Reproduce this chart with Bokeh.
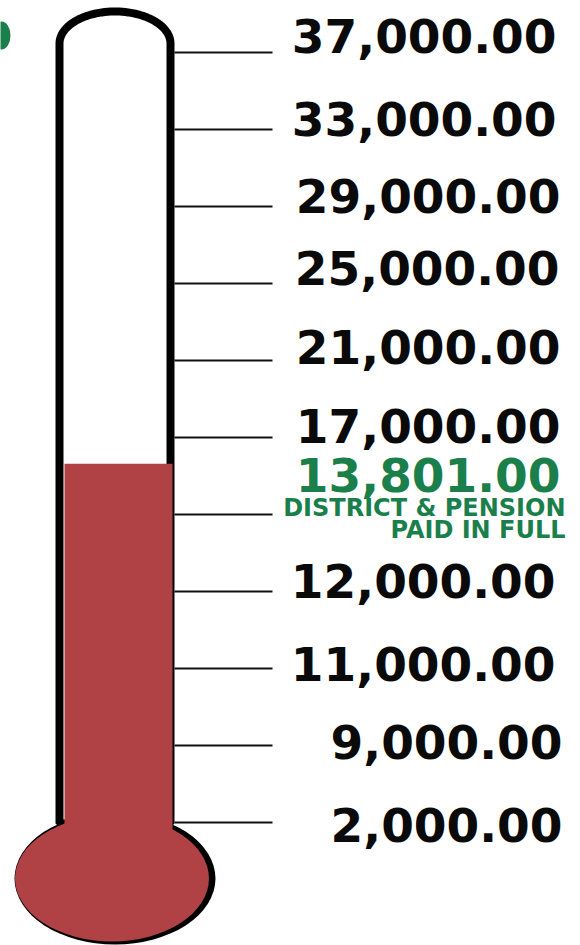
import numpy as np
from bokeh.plotting import figure
from bokeh.models import Range1d
from bokeh.core.properties import value
from bokeh.embed import file_html
from bokeh.resources import INLINE

# goal ladder, bottom to top (the rung marks are evenly spaced by rank)
tick_ranks = [0, 1, 2, 3, 4, 5, 6, 7, 8, 9, 10]
tick_labels = ["2,000.00", "9,000.00", "11,000.00", "12,000.00", None, "17,000.00",
               "21,000.00", "25,000.00", "29,000.00", "33,000.00", "37,000.00"]
raised_label = "13,801.00"
raised_rank = 4.66
note_lines = ["DISTRICT & PENSION", "PAID IN FULL"]

W, H = 580, 945
RUNG = 77.0
BASE = 822.0
def ry(px):
    return (BASE - np.asarray(px, dtype=float)) / RUNG

RED, GREEN = "#B04145", "#1B7F4B"
FONT = value("DejaVu Sans")

p = figure(width=W, height=H, x_range=Range1d(0, W), y_range=Range1d(float(ry(H)), float(ry(0))),
           output_backend="svg", toolbar_location=None, min_border=0, outline_line_color=None,
           background_fill_color="white", border_fill_color="white")
p.axis.visible = False
p.grid.visible = False

# leaf fragment at left edge
p.ellipse(x=[1], y=[float(ry(35))], width=[18], height=[28 / RUNG], fill_color=GREEN, line_color=None)

# rung lines
for r in tick_ranks:
    p.segment(x0=[174], x1=[272], y0=[r], y1=[r], line_color="#111111", line_width=2)

# tube outline
t = np.linspace(np.pi, 0, 60)
tx = np.concatenate([[59], 114.5 + 55.5 * np.cos(t), [170]])
ty = np.concatenate([[823], 43 - 32 * np.sin(t), [823]])
p.patch(tx, ry(ty), fill_color="white", line_color="black", line_width=8)

# bulb: shadow then fill
p.ellipse(x=[114.5], y=[float(ry(878))], width=[201], height=[132 / RUNG], fill_color="black", line_color=None)
p.ellipse(x=[111.5], y=[float(ry(878))], width=[194], height=[126 / RUNG], fill_color=RED, line_color=None)

# mercury column up to the amount raised
p.quad(left=[64], right=[172], bottom=[float(ry(840))], top=[raised_rank], fill_color=RED, line_color=None)

# labels: each sits at its own hand-set spot in the original
label_right = {0: 562, 1: 562, 2: 555, 3: 555, 5: 560, 6: 560, 7: 559, 8: 560, 9: 556, 10: 556}
label_mid = {0: 824, 1: 741, 2: 663, 3: 580, 5: 425, 6: 346, 7: 267, 8: 195, 9: 118, 10: 35}
for r, txt in zip(tick_ranks, tick_labels):
    if txt is None:
        continue
    p.text(x=[label_right[r]], y=[float(ry(label_mid[r]))], text=[txt], text_font=FONT,
           text_font_style="bold", text_font_size="47px", text_align="right",
           text_baseline="middle", text_color="#0a0a0a")
p.text(x=[560], y=[float(ry(474))], text=[raised_label], text_font=FONT, text_font_style="bold",
       text_font_size="47px", text_align="right", text_baseline="middle", text_color=GREEN)
for line, ym in zip(note_lines, [507, 529]):
    p.text(x=[565], y=[float(ry(ym))], text=[line], text_font=FONT, text_font_style="bold",
           text_font_size="24px", text_align="right", text_baseline="middle", text_color=GREEN)

open("out.html", "w").write(file_html(p, INLINE))
